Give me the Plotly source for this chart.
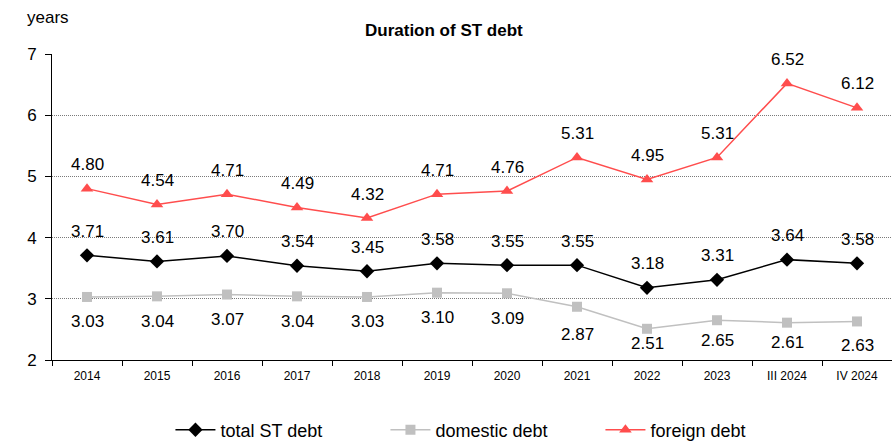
import plotly.graph_objects as go

periods = ["2014", "2015", "2016", "2017", "2018", "2019", "2020",
           "2021", "2022", "2023", "III 2024", "IV 2024"]
total_st = [3.71, 3.61, 3.70, 3.54, 3.45, 3.58, 3.55, 3.55, 3.18, 3.31, 3.64, 3.58]
domestic = [3.03, 3.04, 3.07, 3.04, 3.03, 3.10, 3.09, 2.87, 2.51, 2.65, 2.61, 2.63]
foreign = [4.80, 4.54, 4.71, 4.49, 4.32, 4.71, 4.76, 5.31, 4.95, 5.31, 6.52, 6.12]

# vertical label offsets in px (domestic labels sit below their markers,
# pulled up near the axis so they stay inside the plot area)
total_shift = [24] * 12
domestic_shift = [-25, -25, -25, -25, -25, -25, -25, -28, -15, -20, -20, -24]
foreign_shift = [24] * 12

FONT = "Liberation Sans, Arial, sans-serif"
LABEL_FONT = dict(family=FONT, size=17, color="black")

series = [
    # name, values, colour, marker symbol, marker size, label shifts
    ("total ST debt", total_st, "black", "diamond", 11, total_shift),
    ("domestic debt", domestic, "#C0C0C0", "square", 10, domestic_shift),
    ("foreign debt", foreign, "#FF4D4D", "triangle-up", 11, foreign_shift),
]

fig = go.Figure()
annotations = []
for name, vals, colour, symbol, msize, shifts in series:
    fig.add_trace(go.Scatter(
        x=periods, y=vals, name=name, mode="lines+markers",
        line=dict(color=colour, width=1.5),
        marker=dict(symbol=symbol, size=msize, color=colour),
    ))
    # value labels, placed by category index on the category axis
    for i, (v, s) in enumerate(zip(vals, shifts)):
        annotations.append(dict(
            x=i, y=v, xref="x", yref="y", text=f"{v:.2f}", showarrow=False,
            xanchor="center", yanchor="middle", yshift=s, font=LABEL_FONT,
        ))

annotations += [
    dict(text="years", xref="paper", yref="paper", x=-0.032, y=1.118,
         xanchor="left", yanchor="middle", showarrow=False,
         font=dict(family=FONT, size=17, color="black")),
    dict(text="<b>Duration of ST debt</b>", xref="paper", yref="paper",
         x=0.4666, y=1.078, xanchor="center", yanchor="middle",
         showarrow=False, font=dict(family=FONT, size=17, color="black")),
]

fig.update_layout(
    width=892, height=441,
    margin=dict(l=52, r=0, t=54, b=81, autoexpand=False),
    paper_bgcolor="white", plot_bgcolor="white",
    font=dict(family=FONT, color="black"),
    showlegend=True,
    legend=dict(
        orientation="h", x=0.141, xanchor="left", y=-0.229, yanchor="middle",
        font=dict(family=FONT, size=18, color="black"),
        entrywidth=160, entrywidthmode="pixels",
        itemwidth=40, tracegroupgap=0,
    ),
    annotations=annotations,
)

fig.update_xaxes(
    type="category", tickson="boundaries",
    ticks="outside", ticklen=5, tickcolor="black",
    showline=True, linecolor="black", linewidth=1,
    showgrid=False, tickfont=dict(family=FONT, size=12, color="black"),
    ticklabelstandoff=5,
    range=[-0.5, 11.5],
)
fig.update_yaxes(
    range=[2, 7], tickvals=[2, 3, 4, 5, 6, 7],
    ticks="outside", ticklen=6, tickcolor="black",
    showline=True, linecolor="black", linewidth=1,
    showgrid=True, gridcolor="#7A7A7A", griddash="1px,1px", gridwidth=1,
    tickfont=dict(family=FONT, size=17, color="black"),
    ticklabelstandoff=5,
    zeroline=False,
)

fig.write_html("out.html")
